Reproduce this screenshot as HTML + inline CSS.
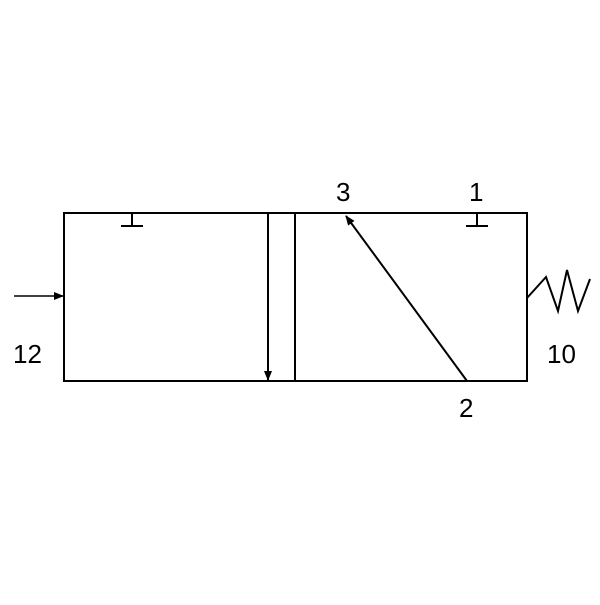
<!DOCTYPE html>
<html><head><style>body{margin:0;background:#fff}</style></head><body>
<svg width="600" height="600" xmlns="http://www.w3.org/2000/svg">
<defs><marker id="a" markerWidth="10" markerHeight="8" refX="9" refY="4" orient="auto" markerUnits="userSpaceOnUse"><path d="M0,0 L10,4 L0,8 Z" fill="#000"/></marker></defs>
<rect x="64" y="213" width="463" height="168" fill="none" stroke="#000" stroke-width="2"/>
<line x1="295" y1="213" x2="295" y2="381" stroke="#000" stroke-width="2"/>
<line x1="132" y1="213" x2="132" y2="226" stroke="#000" stroke-width="2"/>
<line x1="121" y1="226" x2="143" y2="226" stroke="#000" stroke-width="2"/>
<line x1="477" y1="213" x2="477" y2="226" stroke="#000" stroke-width="2"/>
<line x1="466" y1="226" x2="488" y2="226" stroke="#000" stroke-width="2"/>
<line x1="268" y1="213" x2="268" y2="380" stroke="#000" stroke-width="2" marker-end="url(#a)"/>
<line x1="467" y1="381" x2="346" y2="216" stroke="#000" stroke-width="2" marker-end="url(#a)"/>
<line x1="14" y1="296" x2="63" y2="296" stroke="#000" stroke-width="1.5" marker-end="url(#a)"/>
<polyline points="527,298 546,277 558,311 567,270 578,311 590,279" fill="none" stroke="#000" stroke-width="2"/>
<g font-family="Liberation Sans, sans-serif" font-size="26" fill="#000">
<text x="336" y="201">3</text>
<text x="469" y="201">1</text>
<text x="459" y="417">2</text>
<text x="13" y="363">12</text>
<text x="547" y="363">10</text>
</g>
</svg>
</body></html>
